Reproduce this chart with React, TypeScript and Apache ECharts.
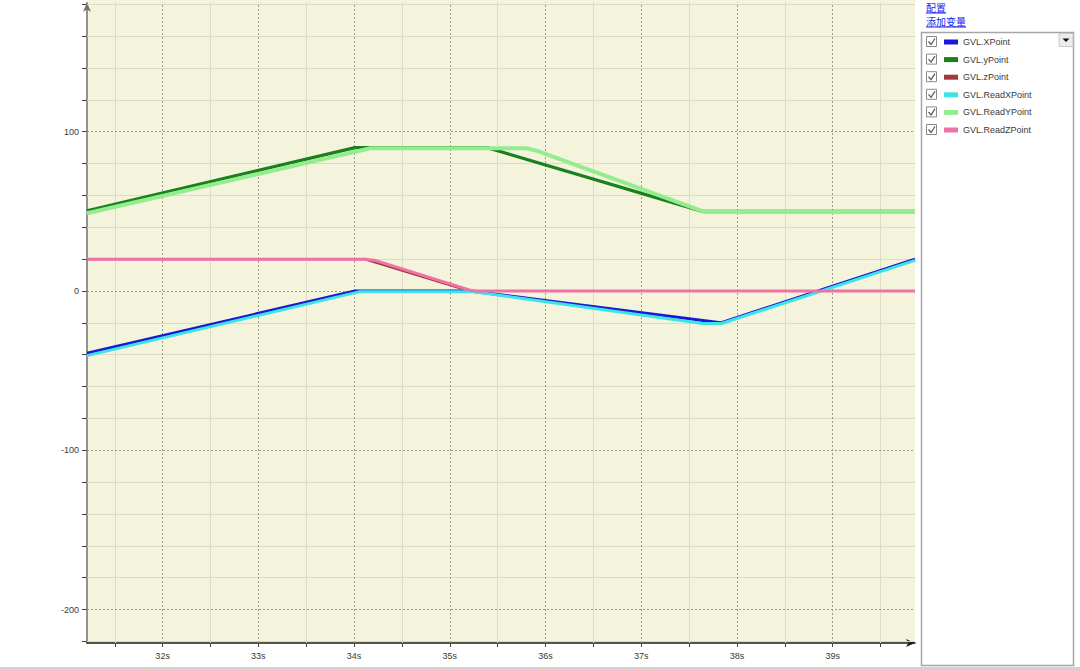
import React, { useEffect, useRef } from 'react';
import * as echarts from 'echarts';

// ---- data ----
const seriesNames = ['GVL.XPoint', 'GVL.yPoint', 'GVL.zPoint', 'GVL.ReadXPoint', 'GVL.ReadYPoint', 'GVL.ReadZPoint'];
const seriesColors = ['#1818d6', '#18801c', '#a5383a', '#3de4e6', '#93ec8e', '#ee72a8'];

const xPointT = [31.21, 34.01, 35.21, 37.83, 39.86];
const xPointV = [-39, 0, 0, -20, 20];
const yPointT = [31.21, 34.01, 35.39, 37.64, 39.86];
const yPointV = [50.4, 90, 90, 50, 50];
const zPointT = [31.21, 34.1, 35.2, 39.86];
const zPointV = [20, 20, 0, 0];
const readXT = [31.21, 34.06, 35.24, 37.64, 37.84, 39.86];
const readXV = [-40.6, -0.4, -0.4, -20.4, -20.4, 19.2];
const readYT = [31.21, 34.17, 35.8, 35.92, 37.66, 39.86];
const readYV = [48.8, 89.6, 89.6, 87.8, 49.6, 49.6];
const readZT = [31.21, 34.12, 34.22, 35.22, 35.3, 39.86];
const readZV = [20, 20, 19.2, 0.3, 0, 0];

const seriesT = [xPointT, yPointT, zPointT, readXT, readYT, readZT];
const seriesV = [xPointV, yPointV, zPointV, readXV, readYV, readZV];
const lineWidths = [3, 3.2, 2, 3, 4, 3];

const xTicks = [31.5, 32, 32.5, 33, 33.5, 34, 34.5, 35, 35.5, 36, 36.5, 37, 37.5, 38, 38.5, 39, 39.5];
const xMajor = [32, 33, 34, 35, 36, 37, 38, 39];
const xMinor = [31.5, 32.5, 33.5, 34.5, 35.5, 36.5, 37.5, 38.5, 39.5];
const yTicks = [-220, -200, -180, -160, -140, -120, -100, -80, -60, -40, -20, 0, 20, 40, 60, 80, 100, 120, 140, 160, 180];
const yMajor = [100, 0, -100, -200];
const yMinor = [-220, -180, -160, -140, -120, -80, -60, -40, -20, 20, 40, 60, 80, 120, 140, 160, 180];

const X_MIN = 31.21;
const X_MAX = 39.86;
const Y_MIN = -221;
const Y_MAX = 181;

const legendRowY = [42, 59.6, 77.2, 94.8, 112.4, 130];

export default function App() {
  const ref = useRef<HTMLDivElement>(null);
  useEffect(() => {
    if (!ref.current) return;
    const chart = echarts.init(ref.current, null, { renderer: 'svg' });

    const dataSeries = seriesNames.map((name, i) => ({
      name,
      type: 'line',
      z: 10,
      showSymbol: false,
      symbol: 'none',
      color: seriesColors[i],
      lineStyle: { width: lineWidths[i], color: seriesColors[i] },
      data: seriesT[i].map((t, k) => [t, seriesV[i][k]]),
    }));

    const gridSeries = [
      {
        name: '_minor',
        type: 'line',
        data: [],
        silent: true,
        markLine: {
          silent: true,
          symbol: 'none',
          label: { show: false },
          animation: false,
          lineStyle: { color: '#dcdbc4', width: 1, type: 'solid' },
          data: [
            ...xMinor.map((v) => ({ xAxis: v })),
            ...yMinor.map((v) => ({ yAxis: v })),
          ],
        },
      },
      {
        name: '_major',
        type: 'line',
        data: [],
        silent: true,
        markLine: {
          silent: true,
          symbol: 'none',
          label: { show: false },
          animation: false,
          lineStyle: { color: '#9d9c8a', width: 1, type: [2, 2] },
          data: [
            ...xMajor.map((v) => ({ xAxis: v })),
            ...yMajor.map((v) => ({ yAxis: v })),
          ],
        },
      },
    ];

    const graphic: any[] = [
      // beige strip at the very top of plot
      { type: 'rect', z: -1, shape: { x: 87, y: 0, width: 829, height: 3 }, style: { fill: '#f4f3dc' } },
      // links
      { type: 'text', x: 926, y: 7, style: { text: '配置', fill: '#1a1aee', font: '10px "Noto Sans CJK SC"', verticalAlign: 'middle' } },
      { type: 'line', shape: { x1: 926, y1: 13, x2: 946, y2: 13 }, style: { stroke: '#1a1aee', lineWidth: 1 } },
      { type: 'text', x: 926, y: 21, style: { text: '添加变量', fill: '#1a1aee', font: '10px "Noto Sans CJK SC"', verticalAlign: 'middle' } },
      { type: 'line', shape: { x1: 926, y1: 27, x2: 966, y2: 27 }, style: { stroke: '#1a1aee', lineWidth: 1 } },
      // legend box
      { type: 'rect', z: -1, shape: { x: 921.5, y: 32.5, width: 152, height: 633 }, style: { fill: '#ffffff', stroke: '#a6a6a6', lineWidth: 1.5 } },
      // dropdown button
      { type: 'rect', shape: { x: 1059, y: 33.5, width: 14, height: 13 }, style: { fill: '#ececec', stroke: '#c8c8c8', lineWidth: 1 } },
      { type: 'polygon', shape: { points: [[1062.5, 38.5], [1069.5, 38.5], [1066, 42]] }, style: { fill: '#111' } },
      // bottom strip
      { type: 'rect', shape: { x: 0, y: 667, width: 1080, height: 3 }, style: { fill: '#d2d2d2' } },
    ];
    legendRowY.forEach((cy) => {
      graphic.push({ type: 'rect', shape: { x: 926.5, y: cy - 5.5, width: 10, height: 10 }, style: { fill: '#fff', stroke: '#8a8a8a', lineWidth: 1 } });
      graphic.push({ type: 'polyline', shape: { points: [[928.5, cy - 0.5], [931, cy + 2.5], [935, cy - 3.5]] }, style: { stroke: '#555', lineWidth: 1.2, fill: null } });
    });

    chart.setOption({
      animation: false,
      backgroundColor: '#ffffff',
      textStyle: { fontFamily: '"Liberation Sans", Arial, sans-serif' },
      grid: {
        left: 87,
        top: 2.7,
        width: 828,
        height: 640.3,
        show: true,
        backgroundColor: '#f4f3dc',
        borderWidth: 0,
        containLabel: false,
      },
      legend: {
        data: seriesNames,
        orient: 'vertical',
        left: 944,
        top: 36,
        padding: 0,
        icon: 'rect',
        itemWidth: 14,
        itemHeight: 5,
        itemGap: 5.6,
        selectedMode: false,
        textStyle: { fontSize: 9, color: '#3a3a3a', lineHeight: 12, fontFamily: '"Liberation Sans", Arial, sans-serif' },
      },
      xAxis: {
        type: 'value',
        min: X_MIN,
        max: X_MAX,
        axisLine: {
          show: true,
          onZero: false,
          symbol: ['none', 'arrow'],
          symbolSize: [6, 9],
          lineStyle: { color: '#1e1e1e', width: 1.5 },
        },
        axisTick: { show: true, customValues: xTicks, length: 4, lineStyle: { color: '#444' } },
        axisLabel: {
          customValues: xMajor,
          formatter: (v: number) => `${v}s`,
          fontSize: 9,
          color: '#3a3a3a',
          margin: 8,
        },
        splitLine: { show: false },
      },
      yAxis: {
        type: 'value',
        min: Y_MIN,
        max: Y_MAX,
        axisLine: {
          show: true,
          onZero: false,
          symbol: ['none', 'arrow'],
          symbolSize: [6, 9],
          lineStyle: { color: '#707070', width: 1.5 },
        },
        axisTick: { show: true, customValues: yTicks, length: 5, lineStyle: { color: '#444' } },
        axisLabel: {
          customValues: yMajor,
          fontSize: 9,
          color: '#3a3a3a',
          margin: 8,
        },
        splitLine: { show: false },
      },
      graphic,
      series: [...gridSeries, ...dataSeries],
    });

    return () => chart.dispose();
  }, []);

  return (
    <div
      ref={ref}
      style={{ position: 'absolute', left: 0, top: 0, width: 1080, height: 670, background: '#fff' }}
    />
  );
}
